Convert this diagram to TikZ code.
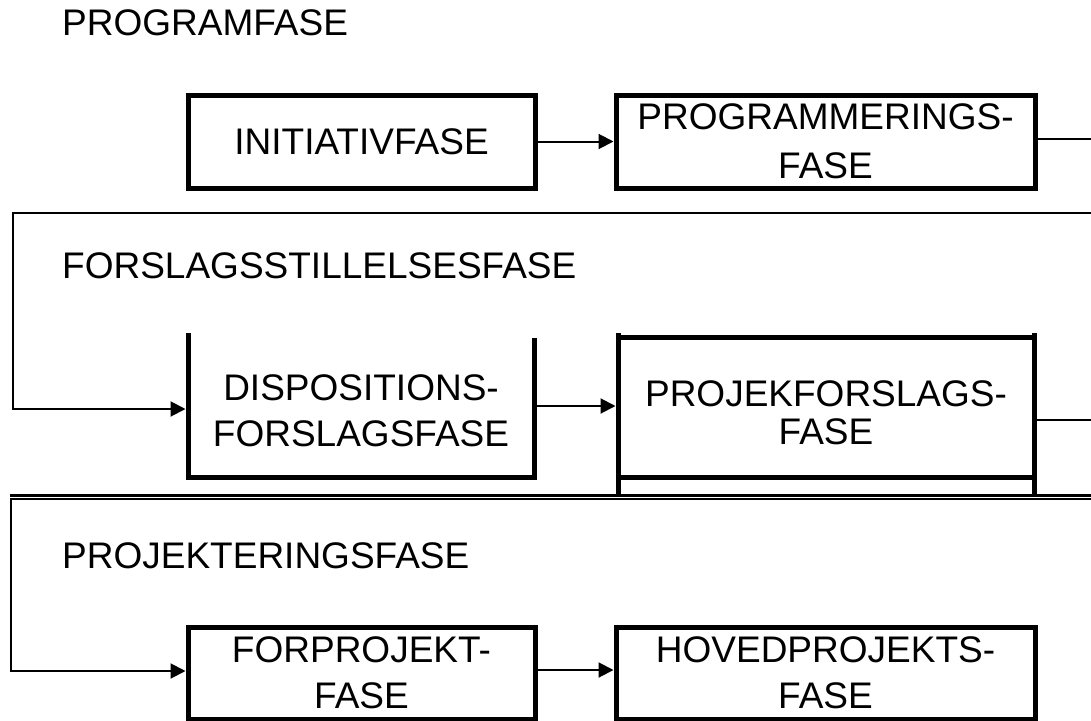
\documentclass[tikz,border=0pt]{standalone}
\usepackage{fontspec}
\setmainfont{Liberation Sans}
\usetikzlibrary{arrows.meta}
\begin{document}
\begin{tikzpicture}[x=1pt,y=-1pt,
  lbl/.style={font=\fontsize{37}{44}\selectfont, inner sep=0pt},
  box/.style={draw, line width=5pt, align=center, font=\fontsize{37}{#1}\selectfont, inner sep=0pt},
  box/.default=46,
  openbox/.style={align=center, font=\fontsize{37}{#1}\selectfont, inner sep=0pt, outer sep=2.5pt},
  boxline/.style={line width=5pt},
  conn/.style={line width=2pt},
  arr/.style={conn, -{Triangle[length=15pt,width=15pt]}},
  sep/.style={line width=3pt}]
\useasboundingbox (0,0) rectangle (1091,720);
% section titles
\node[lbl, anchor=base west] (t1) at (62,35) {PROGRAMFASE};
\node[lbl, anchor=base west] (t2) at (62,278) {FORSLAGSSTILLELSESFASE};
\node[lbl, anchor=base west] (t3) at (62,568) {PROJEKTERINGSFASE};
% row 1
\node[box, minimum width=347pt, minimum height=93pt] (b1) at (361.5,141.5) {INITIATIVFASE};
\node[box=49, minimum width=419pt, minimum height=93pt] (b2) at (825.5,141.5) {PROGRAMMERINGS-\\FASE};
% row 2
\node[openbox=46, minimum width=346pt] (b3) at (361,410.5) {DISPOSITIONS-\\FORSLAGSFASE};
\node[openbox=38, minimum width=416pt] (b4) at (826,412.5) {PROJEKFORSLAGS-\\FASE};
\coordinate (b3a) at (188,333);
\coordinate (b3b) at (188,477);
\coordinate (b3c) at (534,477);
\coordinate (b3d) at (534,338);
\draw[boxline] (b3a) -- (b3b) -- (b3c) -- (b3d);
\coordinate (b4a) at (618,337);
\coordinate (b4b) at (1034,477);
\draw[boxline] (b4a) rectangle (b4b);
\coordinate (b4c) at (618,333);
\coordinate (b4d) at (618,495);
\coordinate (b4e) at (1034,333);
\coordinate (b4f) at (1034,495);
\draw[boxline] (b4c) -- (b4d);
\draw[boxline] (b4e) -- (b4f);
\coordinate (b4w) at (615.5,406);
% row 3
\node[box=46, minimum width=347pt, minimum height=92pt] (b5) at (361.5,673) {FORPROJEKT-\\FASE};
\node[box=46, minimum width=419pt, minimum height=92pt] (b6) at (825.5,673) {HOVEDPROJEKTS-\\FASE};
% connectors
\coordinate (r1) at (1091,139);
\coordinate (r2) at (1091,213);
\coordinate (c1) at (13,213);
\coordinate (c2) at (13,409);
\coordinate (r3) at (1091,420);
\coordinate (s1) at (10,495);
\coordinate (s2) at (1091,495);
\coordinate (r4) at (1091,499);
\coordinate (c3) at (11,499);
\coordinate (c4) at (11,671);
\draw[arr] (b1.east) -- (b2.west);
\draw[conn] (b2.east |- r1) -- (r1);
\draw[arr] (r2) -- (c1) -- (c2) -- (c2 -| b3.west);
\draw[arr] (b3.east |- b4w) -- (b4w);
\draw[conn] (b4b |- r3) -- (r3);
\draw[sep] (s1) -- (s2);
\draw[arr] (r4) -- (c3) -- (c4) -- (c4 -| b5.west);
\draw[arr] (b5.east |- 0,670) -- (b6.west |- 0,670);
\end{tikzpicture}
\end{document}
